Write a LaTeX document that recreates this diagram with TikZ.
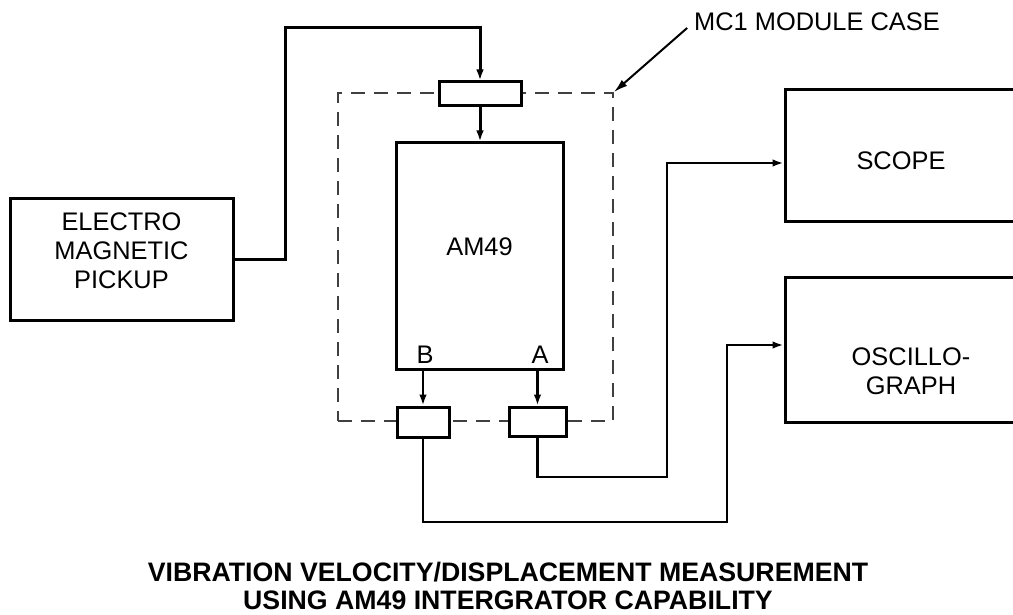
\documentclass[tikz,border=0pt]{standalone}
\usepackage{fontspec}
\setmainfont{Liberation Sans}
\usetikzlibrary{arrows.meta,fit}

\begin{document}
\begin{tikzpicture}[x=0.5pt,y=-0.5pt,
  every node/.style={font=\fontsize{12.7}{14.5}\selectfont, align=center},
  box/.style={draw, line width=1.5pt, fill=white, inner sep=0pt},
  port/.style={draw, line width=1.5pt, fill=white, inner sep=0pt},
  case/.style={draw=black!75, line width=0.8pt, dash pattern=on 7pt off 4.5pt, inner sep=0pt},
  wire/.style={line width=1.5pt},
  signal/.style={line width=1.1pt},
  flow/.style={-{Latex[length=5.5pt,width=3.8pt]}}]
    \useasboundingbox (0,0) rectangle (1013,615);
    \clip (0,0) rectangle (1013,615);
    \node[case, fit={(338,93) (613,421)}] (case) {};
    \node[box, fit={(10,199) (233,320)}] (pickup) {ELECTRO\\MAGNETIC\\PICKUP};
    \node[box, fit={(396,143) (563,369)}] (am) {AM49};
    \node[port, fit={(439,82) (521,106)}] (topport) {};
    \node[port, fit={(397,407) (449,437)}] (portB) {};
    \node[port, fit={(509,407) (566,436)}] (portA) {};
    \node[box, fit={(785,90) (1020,222)}] (scope) {};
    \node[box, fit={(785,277) (1020,422)}] (osc) {};
    \node (scopetxt) at (901,161) {SCOPE};
    \node (osctxt) at (911,371) {OSCILLO-\\GRAPH};
    \node (lblB) at (425,355) {B};
    \node (lblA) at (540,355) {A};
    \node (casetxt) at (817,22) {MC1 MODULE CASE};
    \node[font=\fontsize{13.35}{14.2}\selectfont\bfseries] (title) at (508,586)
	{VIBRATION VELOCITY/DISPLACEMENT MEASUREMENT\\USING AM49 INTERGRATOR CAPABILITY};
    \coordinate (pickupbend) at (285,28);
    \coordinate (bendB) at (727,522);
    \coordinate (bendA) at (667,477);
    \draw[wire, flow] (pickup.east) -| (pickupbend) -| (topport.north);
    \draw[wire, flow] (topport.south) -- (topport.south |- am.north);
    \draw[signal, flow] (portB.north |- am.south) -- (portB.north);
    \draw[signal, flow] (portA.north |- am.south) -- (portA.north);
    \draw[signal, flow] (portB.south) |- (bendB) |- ([yshift=2.25pt]osc.west);
    \draw[signal, flow] (portA.south) |- (bendA) |- ([yshift=-3.5pt]scope.west);
    \draw[line width=1pt, -{Latex[length=7pt,width=4pt]}] ([yshift=-3pt]casetxt.west) -- (case.north east);
\end{tikzpicture}
\end{document}
